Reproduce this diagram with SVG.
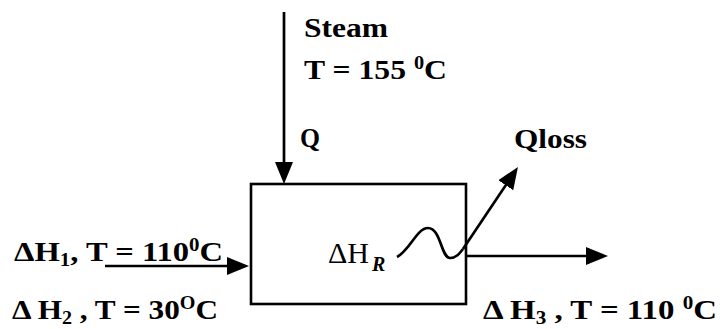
<svg xmlns="http://www.w3.org/2000/svg" width="720" height="329" viewBox="0 0 720 329">
<style>
.t{font-family:"Liberation Serif","Times New Roman",serif;font-weight:bold;font-size:28px;fill:#000}
.n{font-family:"Liberation Serif","Times New Roman",serif;font-weight:normal;font-size:30px;fill:#000}
.s{font-size:18px}
.ln{stroke:#000;stroke-width:2.7;fill:none}
</style>
<defs>
<marker id="ah" viewBox="0 0 22 18" refX="12" refY="9" markerWidth="22" markerHeight="18" markerUnits="userSpaceOnUse" orient="auto">
<path d="M0,0 L22,9 L0,18 z" fill="#000"/>
</marker>
</defs>
<rect width="720" height="329" fill="#fff"/>
<g id="reactor">
<rect x="251" y="184" width="215" height="120" fill="none" stroke="#000" stroke-width="2.6"/>
<text class="n" x="328" y="263">ΔH<tspan dx="3" dy="8" font-size="20" font-style="italic" font-weight="bold">R</tspan></text>
</g>
<g id="connectors">
<line class="ln" x1="284" y1="12" x2="284" y2="174" marker-end="url(#ah)"/>
<line class="ln" x1="105" y1="266" x2="239" y2="266" marker-end="url(#ah)"/>
<line class="ln" x1="466" y1="256" x2="598" y2="256" marker-end="url(#ah)"/>
<path class="ln" d="M397,257 C410,250 417,228 428,228 C441,228 441,258 450,258 C456,258 459,254 463,249"/>
<line class="ln" x1="463" y1="249" x2="512.4" y2="175.3" marker-end="url(#ah)"/>
</g>
<g id="steam-label">
<text class="t" x="304" y="37" textLength="84" lengthAdjust="spacingAndGlyphs">Steam</text>
<text class="t" x="304" y="79" textLength="143" lengthAdjust="spacingAndGlyphs">T = 155 <tspan class="s" dy="-10">0</tspan><tspan dy="10">C</tspan></text>
<text class="t" x="300" y="147" textLength="20" lengthAdjust="spacingAndGlyphs">Q</text>
</g>
<g id="qloss-label">
<text class="t" x="514" y="148" textLength="73" lengthAdjust="spacingAndGlyphs">Qloss</text>
</g>
<g id="inlet-labels">
<text class="t" x="14" y="261" textLength="209" lengthAdjust="spacingAndGlyphs">ΔH<tspan class="s" dy="5">1</tspan><tspan dy="-5">, T = 110</tspan><tspan class="s" dy="-10">0</tspan><tspan dy="10">C</tspan></text>
<text class="t" x="12" y="319" textLength="206" lengthAdjust="spacingAndGlyphs">Δ H<tspan class="s" dy="5">2</tspan><tspan dy="-5"> , T = 30</tspan><tspan class="s" dy="-10">O</tspan><tspan dy="10">C</tspan></text>
</g>
<g id="outlet-label">
<text class="t" x="483" y="319" textLength="234" lengthAdjust="spacingAndGlyphs">Δ H<tspan class="s" dy="5">3</tspan><tspan dy="-5"> , T = 110 </tspan><tspan class="s" dy="-10">0</tspan><tspan dy="10">C</tspan></text>
</g>
</svg>
